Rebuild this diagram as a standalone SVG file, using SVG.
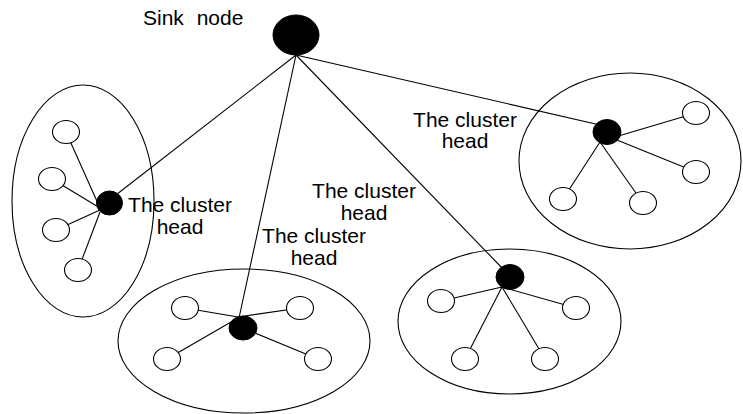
<svg xmlns="http://www.w3.org/2000/svg" width="743" height="414" viewBox="0 0 743 414">
<style>
.cl{fill:none;stroke:#000;stroke-width:1.1}
.n{fill:#fff;stroke:#000;stroke-width:1.1}
.h{fill:#000;stroke:#000;stroke-width:1}
.e{stroke:#000;stroke-width:1.1;fill:none}
text{font-family:"Liberation Sans",Arial,sans-serif;font-size:21px;fill:#000}
</style>
<rect width="743" height="414" fill="#fff"/>
<g id="clusters">
<ellipse id="cluster-left" class="cl" cx="83" cy="201" rx="71" ry="116"/>
<ellipse id="cluster-bottom" class="cl" cx="244" cy="341" rx="126" ry="72"/>
<ellipse id="cluster-middle" class="cl" cx="509.5" cy="321.5" rx="111.5" ry="72.5"/>
<ellipse id="cluster-right" class="cl" cx="630" cy="161" rx="111" ry="88"/>
</g>
<g id="connectors" class="e">
<line x1="296" y1="55" x2="112" y2="198"/>
<line x1="296" y1="55" x2="239" y2="318"/>
<line x1="296" y1="55" x2="504" y2="270"/>
<line x1="296" y1="55" x2="600" y2="125"/>
<line x1="66" y1="132" x2="100" y2="208"/>
<line x1="52" y1="179" x2="100" y2="208"/>
<line x1="56" y1="230" x2="100" y2="210"/>
<line x1="78" y1="270" x2="100" y2="212"/>
<line x1="185" y1="308" x2="238" y2="317"/>
<line x1="300" y1="308" x2="238" y2="317"/>
<line x1="167" y1="359" x2="238" y2="318"/>
<line x1="318" y1="359" x2="243" y2="328"/>
<line x1="441" y1="301" x2="502" y2="287"/>
<line x1="576" y1="308" x2="502" y2="287"/>
<line x1="465" y1="359" x2="502" y2="287"/>
<line x1="545" y1="359" x2="502" y2="287"/>
<line x1="696" y1="113" x2="615" y2="137"/>
<line x1="696" y1="172" x2="612" y2="138"/>
<line x1="563" y1="199" x2="600" y2="142"/>
<line x1="643" y1="203" x2="600" y2="142"/>
</g>
<g id="sensor-nodes">
<ellipse id="n-l1" class="n" cx="66" cy="132" rx="13.5" ry="11.5"/>
<ellipse id="n-l2" class="n" cx="52" cy="179" rx="13.5" ry="11.5"/>
<ellipse id="n-l3" class="n" cx="56" cy="230" rx="13.5" ry="11.5"/>
<ellipse id="n-l4" class="n" cx="78" cy="270" rx="13.5" ry="11.5"/>
<ellipse id="n-b1" class="n" cx="185" cy="308" rx="13.5" ry="11.5"/>
<ellipse id="n-b2" class="n" cx="300" cy="308" rx="13.5" ry="11.5"/>
<ellipse id="n-b3" class="n" cx="167" cy="359" rx="13.5" ry="11.5"/>
<ellipse id="n-b4" class="n" cx="318" cy="359" rx="13.5" ry="11.5"/>
<ellipse id="n-m1" class="n" cx="441" cy="301" rx="13.5" ry="11.5"/>
<ellipse id="n-m2" class="n" cx="576" cy="308" rx="13.5" ry="11.5"/>
<ellipse id="n-m3" class="n" cx="465" cy="359" rx="13.5" ry="11.5"/>
<ellipse id="n-m4" class="n" cx="545" cy="359" rx="13.5" ry="11.5"/>
<ellipse id="n-r1" class="n" cx="696" cy="113" rx="13.5" ry="11.5"/>
<ellipse id="n-r2" class="n" cx="696" cy="172" rx="13.5" ry="11.5"/>
<ellipse id="n-r3" class="n" cx="563" cy="199" rx="13.5" ry="11.5"/>
<ellipse id="n-r4" class="n" cx="643" cy="203" rx="13.5" ry="11.5"/>
</g>
<g id="head-left"><ellipse class="h" cx="109.5" cy="203" rx="13" ry="12"/></g>
<g id="head-bottom"><ellipse class="h" cx="243" cy="328" rx="14" ry="12"/></g>
<g id="head-middle"><ellipse class="h" cx="510" cy="277" rx="14" ry="12.5"/></g>
<g id="head-right"><ellipse class="h" cx="607" cy="132" rx="14" ry="12.5"/></g>
<g id="sink"><ellipse class="h" cx="296" cy="35" rx="23" ry="20"/>
<text x="143" y="25" word-spacing="7">Sink node</text></g>
<g id="labels" text-anchor="middle">
<text x="180" y="212">The cluster</text>
<text x="180" y="234">head</text>
<text x="465" y="127">The cluster</text>
<text x="465" y="148">head</text>
<text x="364" y="198">The cluster</text>
<text x="364" y="220">head</text>
<text x="314" y="243">The cluster</text>
<text x="314" y="265">head</text>
</g>
</svg>
